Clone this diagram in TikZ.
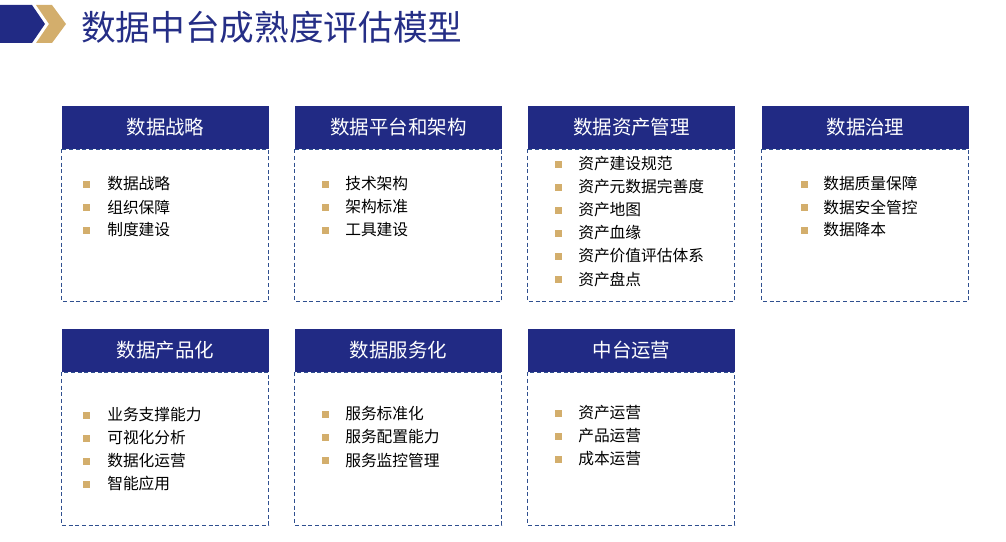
\documentclass[tikz,border=0pt]{standalone}
\usepackage{fontspec}
\setmainfont{Noto Sans CJK SC}
\usetikzlibrary{positioning,calc}
\definecolor{HdrNavy}{HTML}{212A84}
\definecolor{TitleNavy}{HTML}{252E86}
\definecolor{BulletGold}{HTML}{D3AE6C}
\definecolor{DashBlue}{HTML}{2F4F8F}

\begin{document}
\begin{tikzpicture}[x=0.75pt,y=-0.75pt,
  hdr/.style={fill=HdrNavy,text=white,minimum width=155.25pt,minimum height=32.25pt,inner sep=0pt,font=\fontsize{14.6}{16}\selectfont},
  body/.style={draw=DashBlue,line width=0.75pt,dash pattern=on 3pt off 2pt},
  sq/.style={fill=BulletGold,minimum size=5.25pt,inner sep=0pt},
  item/.style={anchor=west,inner sep=0pt,font=\fontsize{11.8}{14}\selectfont}]
\useasboundingbox (0,0) rectangle (1006,542);
% title bar
\fill[HdrNavy] (0,5) -- (32,5) -- (45,24) -- (32,43) -- (0,43) -- cycle;
\fill[BulletGold] (36,5) -- (52,5) -- (66,24) -- (52,43) -- (36,43) -- (49,24) -- cycle;
\node[anchor=west,inner sep=0pt,text=TitleNavy,font=\fontsize{26}{28}\selectfont] (title) at (81,27.5) {数据中台成熟度评估模型};
% data strategy
\begin{scope}[shift={(62,106)}]
\node[hdr] (hd1) at (103.5,21.5) {数据战略};
\draw[body] (hd1.south west) rectangle ++(207,152);
\foreach \t [count=\i] in {数据战略,组织保障,制度建设}{
  \node[sq] (sq1-\i) at (24.5,{78+23*(\i-1)}) {};
  \node[item] (it1-\i) at (45,{78+23*(\i-1)}) {\t};}
\end{scope}
% platform and architecture
\begin{scope}[shift={(295,106)}]
\node[hdr] (hd2) at (103.5,21.5) {数据平台和架构};
\draw[body] (hd2.south west) rectangle ++(207,152);
\foreach \t [count=\i] in {技术架构,架构标准,工具建设}{
  \node[sq] (sq2-\i) at (30,{78+23*(\i-1)}) {};
  \node[item] (it2-\i) at (50,{78+23*(\i-1)}) {\t};}
\end{scope}
% asset management
\begin{scope}[shift={(528,106)}]
\node[hdr] (hd3) at (103.5,21.5) {数据资产管理};
\draw[body] (hd3.south west) rectangle ++(207,152);
\foreach \t [count=\i] in {资产建设规范,资产元数据完善度,资产地图,资产血缘,资产价值评估体系,资产盘点}{
  \node[sq] (sq3-\i) at (30,{58+23*(\i-1)}) {};
  \node[item] (it3-\i) at (50,{58+23*(\i-1)}) {\t};}
\end{scope}
% governance
\begin{scope}[shift={(762,106)}]
\node[hdr] (hd4) at (103.5,21.5) {数据治理};
\draw[body] (hd4.south west) rectangle ++(207,152);
\foreach \t [count=\i] in {数据质量保障,数据安全管控,数据降本}{
  \node[sq] (sq4-\i) at (42,{78+23*(\i-1)}) {};
  \node[item] (it4-\i) at (61,{78+23*(\i-1)}) {\t};}
\end{scope}
% productization
\begin{scope}[shift={(62,329)}]
\node[hdr] (hd5) at (103.5,21.5) {数据产品化};
\draw[body] (hd5.south west) rectangle ++(207,153);
\foreach \t [count=\i] in {业务支撑能力,可视化分析,数据化运营,智能应用}{
  \node[sq] (sq5-\i) at (24.5,{86+23*(\i-1)}) {};
  \node[item] (it5-\i) at (45,{86+23*(\i-1)}) {\t};}
\end{scope}
% servitization
\begin{scope}[shift={(295,329)}]
\node[hdr] (hd6) at (103.5,21.5) {数据服务化};
\draw[body] (hd6.south west) rectangle ++(207,153);
\foreach \t [count=\i] in {服务标准化,服务配置能力,服务监控管理}{
  \node[sq] (sq6-\i) at (30,{85+23*(\i-1)}) {};
  \node[item] (it6-\i) at (50,{85+23*(\i-1)}) {\t};}
\end{scope}
% operations
\begin{scope}[shift={(528,329)}]
\node[hdr] (hd7) at (103.5,21.5) {中台运营};
\draw[body] (hd7.south west) rectangle ++(207,153);
\foreach \t [count=\i] in {资产运营,产品运营,成本运营}{
  \node[sq] (sq7-\i) at (30,{84+23*(\i-1)}) {};
  \node[item] (it7-\i) at (50,{84+23*(\i-1)}) {\t};}
\end{scope}
\end{tikzpicture}
\end{document}
